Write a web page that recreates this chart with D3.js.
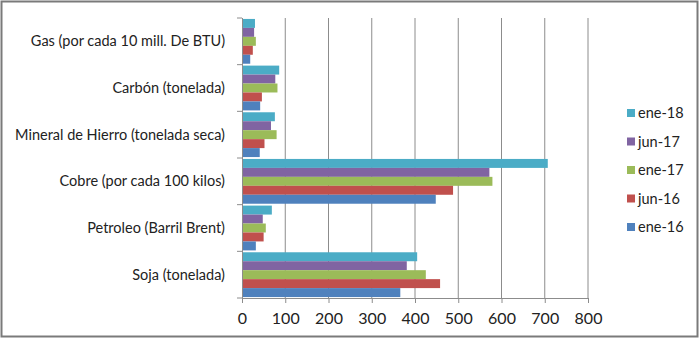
<!DOCTYPE html>
<html>
<head>
<meta charset="utf-8">
<script src="https://cdn.jsdelivr.net/npm/d3@7"></script>
<style>
  html, body { margin: 0; padding: 0; background: #fff; }
  svg { display: block; }
  text { font-family: Lato, "Open Sans", sans-serif; fill: #222; }
</style>
</head>
<body>
<svg id="chart" width="700" height="338"></svg>
<script>
// Commodity prices by period
const categories = [
  "Gas (por cada 10 mill. De BTU)",
  "Carbón (tonelada)",
  "Mineral de Hierro (tonelada seca)",
  "Cobre (por cada 100 kilos)",
  "Petroleo (Barril Brent)",
  "Soja (tonelada)"
];
// Series listed top-to-bottom within each category group
const seriesNames = ["ene-18", "jun-17", "ene-17", "jun-16", "ene-16"];
const seriesColors = ["#4BACC6", "#8064A2", "#9BBB59", "#C0504D", "#4F81BD"];

const ene18 = [30, 86, 76, 707, 69, 405];
const jun17 = [28, 77, 67, 572, 48, 381];
const ene17 = [32, 82, 80, 579, 55, 425];
const jun16 = [25, 46, 52, 488, 50, 458];
const ene16 = [19, 42, 41, 448, 32, 366];
const seriesValues = [ene18, jun17, ene17, jun16, ene16];

const xTicks = [0, 100, 200, 300, 400, 500, 600, 700, 800];

const svg = d3.select("#chart");
const W = 700, H = 338;

// Outer frame
svg.append("rect")
  .attr("x", 1.5).attr("y", 1.5)
  .attr("width", W - 4).attr("height", H - 3)
  .attr("fill", "#fff").attr("stroke", "#7a7a7a").attr("stroke-width", 2);

const plot = { left: 242, right: 588, top: 18, bottom: 298 };

const x = d3.scaleLinear().domain([0, 800]).range([plot.left, plot.right]);
const y = d3.scaleBand().domain(categories).range([plot.top, plot.bottom]).paddingInner(0).paddingOuter(0);
const inner = d3.scaleBand().domain(seriesNames).range([0, y.bandwidth()]).paddingInner(0).paddingOuter(0.105);

// Vertical gridlines
svg.append("g").selectAll("line")
  .data(xTicks.slice(1))
  .join("line")
  .attr("x1", d => x(d)).attr("x2", d => x(d))
  .attr("y1", plot.top).attr("y2", plot.bottom)
  .attr("stroke", "#8c8c8c").attr("stroke-width", 1);

// Bars
const groups = svg.append("g").selectAll("g")
  .data(categories)
  .join("g")
  .attr("transform", d => `translate(0,${y(d)})`);

groups.selectAll("rect")
  .data((c, i) => seriesNames.map((s, j) => ({ s, color: seriesColors[j], v: seriesValues[j][i] })))
  .join("rect")
  .attr("x", x(0))
  .attr("y", d => inner(d.s))
  .attr("width", d => x(d.v) - x(0))
  .attr("height", inner.bandwidth())
  .attr("fill", d => d.color);

// Value axis
const xAxis = d3.axisBottom(x).tickValues(xTicks).tickSize(5).tickPadding(10);
const gx = svg.append("g").attr("transform", `translate(0,${plot.bottom})`).call(xAxis);
gx.select(".domain").attr("stroke", "#8c8c8c");
gx.selectAll(".tick line").attr("stroke", "#8c8c8c");
gx.selectAll("text").style("font-size", "16px").style("font-family", "Lato, sans-serif").attr("fill", "#222");

// Category axis
const yTickPos = categories.map(c => y(c)).concat([plot.bottom]);
svg.append("line")
  .attr("x1", plot.left + 0.5).attr("x2", plot.left + 0.5)
  .attr("y1", plot.top).attr("y2", plot.bottom + 5)
  .attr("stroke", "#8c8c8c");
svg.append("g").selectAll("line")
  .data(yTickPos)
  .join("line")
  .attr("x1", plot.left - 5).attr("x2", plot.left)
  .attr("y1", d => d).attr("y2", d => d)
  .attr("stroke", "#8c8c8c");

svg.append("g").selectAll("text")
  .data(categories)
  .join("text")
  .attr("x", plot.left - 17)
  .attr("y", d => y(d) + y.bandwidth() / 2)
  .attr("dy", "0.35em")
  .attr("text-anchor", "end")
  .style("font-size", "14.5px")
  .text(d => d);

// Legend
const legend = svg.append("g").selectAll("g")
  .data(seriesNames)
  .join("g")
  .attr("transform", (d, i) => `translate(627,${113 + i * 28.5})`);
legend.append("rect")
  .attr("x", 0).attr("y", -4)
  .attr("width", 8).attr("height", 8)
  .attr("fill", (d, i) => seriesColors[i]);
legend.append("text")
  .attr("x", 11).attr("y", 0).attr("dy", "0.36em")
  .style("font-size", "14.5px")
  .text(d => d);
</script>
</body>
</html>
